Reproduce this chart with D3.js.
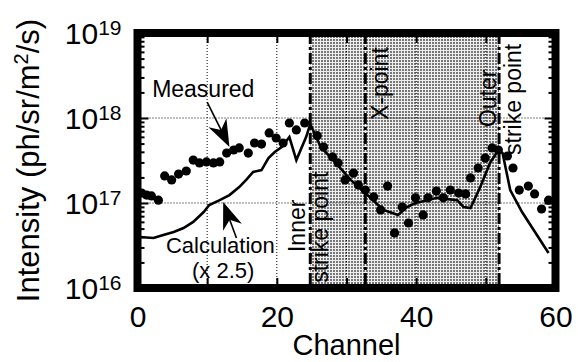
<!DOCTYPE html>
<html>
<head>
<meta charset="utf-8">
<style>
body { margin: 0; background: #fff; }
svg { font-family: "Liberation Sans", Arial, Helvetica, sans-serif; }
</style>
</head>
<body>
<script src="https://d3js.org/d3.v7.min.js"></script>
<script>

var width = 578,
    height = 362;

// values
var measuredChannel = [0.6,1.3,2,3,3.9,4.9,5.9,7,8,8.9,9.9,10.9,11.8,12.8,13.8,14.6,15.9,16.8,17.8,18.9,
  19.9,20.9,21.8,22.8,24,25.8,26.7,28,28.8,29.8,31,31.7,32.7,33.9,34.9,35.9,36.9,38,38.9,39.9,
  41,41.7,42.9,43.9,44.9,46.1,47.1,47.8,48.9,49.9,50.9,51.8,53.1,53.9,54.8,56.1,57,58,59,60];
var measuredValue = [1.31e17,1.24e17,1.21e17,1.08e17,2.08e17,1.87e17,2.19e17,2.38e17,3.2e17,2.96e17,
  3.04e17,2.96e17,3.04e17,3.87e17,4.2e17,4.44e17,3.87e17,5.08e17,4.94e17,6.67e17,
  5.82e17,5.08e17,8.73e17,7.23e17,8.73e17,6.2e17,4.56e17,3.48e17,2.96e17,1.87e17,
  2.25e17,1.63e17,1.42e17,1.18e17,8.28e16,1.58e17,4.44e16,8.97e16,5.82e16,1.15e17,
  7.23e16,1.15e17,1.38e17,1.15e17,1.42e17,1.31e17,1.28e17,1.97e17,2.58e17,3.38e17,
  4.44e17,4.2e17,3.57e17,2.58e17,1.42e17,1.58e17,1.28e17,8.5e16,1.08e17,1.08e17];

var calcChannel = [0.3,2.3,3.7,5.2,6.6,8,9.5,10.3,11.8,13.2,14.6,15.6,16.6,17.8,18.8,19.7,20.7,21.8,22.8,24.2,
  24.8,26.3,28.1,30.6,33,35.3,37.4,38.7,39.9,41.6,43,44.5,45.9,46.8,47.8,49.2,50.6,51.8,52.4,53.5,55.2,59];
var calcValue = [3.98e16,3.87e16,4.2e16,4.56e16,5.08e16,5.98e16,7.83e16,9.47e16,1.08e17,1.24e17,
  1.54e17,1.87e17,2.32e17,2.44e17,3.38e17,3.98e17,4.56e17,5.97e17,3.2e17,5.97e17,
  8.5e17,4.56e17,3.2e17,1.87e17,1.24e17,8.28e16,7.23e16,8.97e16,1.0e17,1.08e17,
  1.15e17,1.11e17,1.08e17,8.97e16,8.73e16,1.54e17,2.96e17,4.2e17,3.87e17,1.42e17,7.83e16,2.58e16];

var xTickLabels = [0, 20, 40, 60];
var xGrid = [10, 20, 30, 40, 50];
var yDecades = [16, 17, 18, 19];
var yGrid = [1e17, 1e18];
var shadeRange = [24.8, 51.9];
var markerChannels = [24.8, 32.7, 51.9];

var x = d3.scaleLinear().domain([0, 60]).range([137.5, 555.5]);
var y = d3.scaleLog().domain([1e16, 1e19]).range([288, 33]);

var svg = d3.select("body").append("svg")
    .attr("width", width)
    .attr("height", height);

var defs = svg.append("defs");
var pat = defs.append("pattern")
    .attr("id", "stipple")
    .attr("width", 3).attr("height", 3)
    .attr("patternUnits", "userSpaceOnUse");
pat.append("rect").attr("width", 3).attr("height", 3).attr("fill", "#efefef");
pat.append("rect").attr("width", 2).attr("height", 2).attr("fill", "#777");

defs.append("clipPath").attr("id", "plot")
  .append("rect")
    .attr("x", x(0)).attr("y", y(1e19))
    .attr("width", x(60) - x(0)).attr("height", y(1e16) - y(1e19));

var plot = svg.append("g").attr("clip-path", "url(#plot)");

// shaded divertor region
plot.append("rect")
    .attr("x", x(shadeRange[0]))
    .attr("y", y(1e19))
    .attr("width", x(shadeRange[1]) - x(shadeRange[0]))
    .attr("height", y(1e16) - y(1e19))
    .attr("fill", "url(#stipple)");

// dotted grid
plot.selectAll(".vgrid").data(xGrid).enter().append("line")
    .attr("x1", d => x(d)).attr("x2", d => x(d))
    .attr("y1", y(1e19)).attr("y2", y(1e16))
    .attr("stroke", "#000").attr("stroke-width", 1).attr("stroke-dasharray", "1,2");
plot.selectAll(".hgrid").data(yGrid).enter().append("line")
    .attr("x1", x(0)).attr("x2", x(60))
    .attr("y1", d => y(d)).attr("y2", d => y(d))
    .attr("stroke", "#000").attr("stroke-width", 1).attr("stroke-dasharray", "1,2");

// strike point / X-point markers
plot.selectAll(".marker").data(markerChannels).enter().append("line")
    .attr("x1", d => x(d)).attr("x2", d => x(d))
    .attr("y1", y(1e19)).attr("y2", y(1e16))
    .attr("stroke", "#000").attr("stroke-width", 3).attr("stroke-dasharray", "11,3,3,3");

// calculation
var calc = calcChannel.map((c, i) => [c, calcValue[i]]);
plot.append("path")
    .datum(calc)
    .attr("d", d3.line().x(d => x(d[0])).y(d => y(d[1])))
    .attr("fill", "none")
    .attr("stroke", "#000")
    .attr("stroke-width", 2.6)
    .attr("stroke-linejoin", "miter");

// measured
var meas = measuredChannel.map((c, i) => [c, measuredValue[i]]);
plot.selectAll(".dot").data(meas).enter().append("circle")
    .attr("cx", d => x(d[0])).attr("cy", d => y(d[1]))
    .attr("r", 4.6).attr("fill", "#000");

// inward ticks
var minor = [];
[16, 17, 18].forEach(function(e) {
  for (var k = 2; k <= 9; k++) minor.push(k * Math.pow(10, e));
});
function noDomain(g) { g.select(".domain").remove(); g.selectAll("text").remove(); }
svg.append("g").attr("transform", "translate(" + x(0) + ",0)")
    .call(d3.axisLeft(y).tickValues(minor).tickSize(-7)).call(noDomain);
svg.append("g").attr("transform", "translate(" + x(0) + ",0)")
    .call(d3.axisLeft(y).tickValues(yGrid).tickSize(-11)).call(noDomain);
svg.append("g").attr("transform", "translate(" + x(60) + ",0)")
    .call(d3.axisRight(y).tickValues(minor).tickSize(-7)).call(noDomain);
svg.append("g").attr("transform", "translate(" + x(60) + ",0)")
    .call(d3.axisRight(y).tickValues(yGrid).tickSize(-11)).call(noDomain);
svg.append("g").attr("transform", "translate(0," + y(1e19) + ")")
    .call(d3.axisTop(x).tickValues(xGrid).tickSize(-10)).call(noDomain);
svg.append("g").attr("transform", "translate(0," + y(1e16) + ")")
    .call(d3.axisBottom(x).tickValues(xGrid).tickSize(-10)).call(noDomain);
svg.selectAll(".tick line").attr("stroke", "#000").attr("stroke-width", 2);

// thick frame
svg.append("rect")
    .attr("x", x(0)).attr("y", y(1e19))
    .attr("width", x(60) - x(0)).attr("height", y(1e16) - y(1e19))
    .attr("fill", "none").attr("stroke", "#000").attr("stroke-width", 8);

// x tick labels
var xa = svg.append("g").attr("transform", "translate(0," + y(1e16) + ")")
    .call(d3.axisBottom(x).tickValues(xTickLabels).tickSize(0).tickPadding(18).tickFormat(d3.format("d")));
xa.select(".domain").remove();
xa.selectAll("text").attr("font-size", 30).attr("font-family", "Liberation Sans, Arial, sans-serif").attr("fill", "#000");

// y tick labels
var yl = svg.selectAll(".ylab").data(yDecades).enter().append("text")
    .attr("x", x(0) - 16)
    .attr("y", d => y(Math.pow(10, d)) + 11)
    .attr("text-anchor", "end")
    .attr("font-size", 30);
yl.append("tspan").text("10");
yl.append("tspan").attr("font-size", 21).attr("dy", -9).text(d => d);

// axis titles
svg.append("text")
    .attr("x", x(30)).attr("y", 355)
    .attr("text-anchor", "middle").attr("font-size", 29)
    .text("Channel");
var yt = svg.append("text")
    .attr("transform", "translate(39," + y(Math.pow(10, 17.5)) + ") rotate(-90)")
    .attr("text-anchor", "middle").attr("font-size", 31);
yt.append("tspan").text("Intensity (ph/sr/m");
yt.append("tspan").attr("font-size", 20).attr("dy", -11).text("2");
yt.append("tspan").attr("dy", 11).text("/s)");

// annotations
function arrow(tail, tip) {
  var x0 = x(tail[0]), y0 = y(tail[1]), x1 = x(tip[0]), y1 = y(tip[1]);
  var dx = x1 - x0, dy = y1 - y0, len = Math.sqrt(dx * dx + dy * dy);
  var ux = dx / len, uy = dy / len, px = -uy, py = ux;
  var L = 27, W = 10, N = 19;
  svg.append("line")
      .attr("x1", x0).attr("y1", y0)
      .attr("x2", x1 - ux * N).attr("y2", y1 - uy * N)
      .attr("stroke", "#000").attr("stroke-width", 1.6);
  svg.append("path")
      .attr("d", "M" + x1 + "," + y1 +
        "L" + (x1 - ux * L + px * W) + "," + (y1 - uy * L + py * W) +
        "L" + (x1 - ux * N) + "," + (y1 - uy * N) +
        "L" + (x1 - ux * L - px * W) + "," + (y1 - uy * L - py * W) + "Z")
      .attr("fill", "#000");
}
arrow([10.0, 1.54e18], [13.2, 4.56e17]);
arrow([14.2, 3.87e16], [12.3, 1.03e17]);

function label(t, cx, v, anchor, size) {
  svg.append("text").attr("x", x(cx)).attr("y", y(v))
      .attr("text-anchor", anchor).attr("font-size", size).text(t);
}
label("Measured", 2.1, 1.77e18, "start", 23);
label("Calculation", 11.9, 2.6e16, "middle", 22);
label("(x 2.5)", 12.3, 1.3e16, "middle", 22);

function vlabel(t, ch, v) {
  svg.append("text")
      .attr("transform", "translate(" + x(ch) + "," + y(v) + ") rotate(-90)")
      .attr("font-size", 23).text(t);
}
vlabel("Inner", 24.1, 2.65e16);
vlabel("strike point", 27.3, 1.15e16);
vlabel("X-point", 35.9, 9.47e17);
vlabel("Outer", 51.4, 7.83e17);
vlabel("strike point", 55.0, 3.67e17);

</script>
</body>
</html>
